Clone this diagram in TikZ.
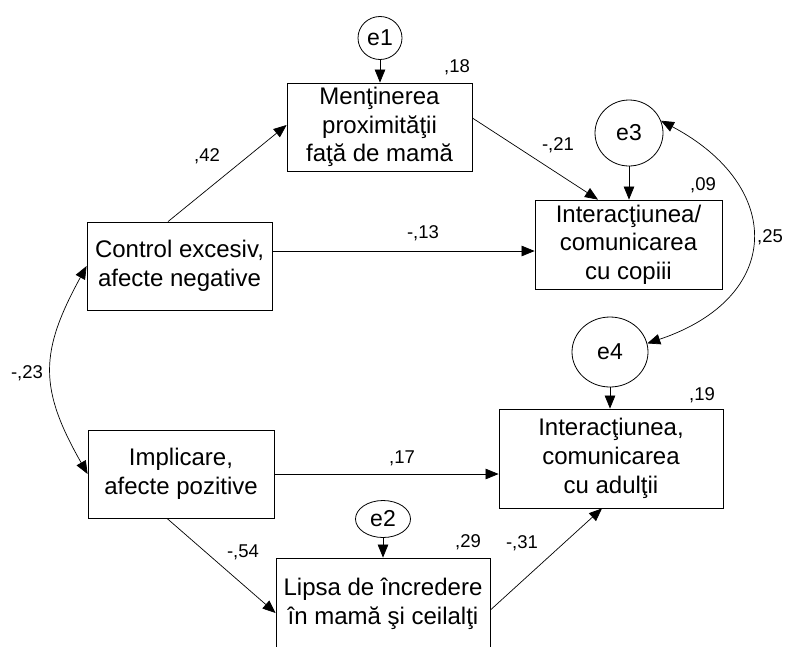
\documentclass[tikz,border=0pt]{standalone}
\usepackage{fontspec}
\setmainfont{Liberation Sans}
\usetikzlibrary{arrows.meta,shapes.geometric,calc}
\begin{document}
\begin{tikzpicture}[x=1pt,y=-1pt,
  box/.style={draw, line width=0.8pt, align=center, inner sep=0pt,
    font=\fontsize{24}{28.7}\selectfont},
  err/.style={draw, ellipse, line width=0.8pt, inner sep=0pt,
    font=\fontsize{23}{27}\selectfont},
  arr/.style={-{Triangle[length=13pt,width=10.5pt]}, line width=0.7pt},
  darr/.style={{Triangle[length=13pt,width=10.5pt]}-{Triangle[length=13pt,width=10.5pt]}, line width=0.7pt},
  lab/.style={font=\fontsize{18.5}{21}\selectfont, inner sep=0pt}]
\useasboundingbox (0,0) rectangle (789,646);
\clip (0,0) rectangle (789,646);

% boxes
\node[box, minimum width=185pt, minimum height=88pt] (box1) at (379.5,127)
  {Menţinerea\\proximităţii\\faţă de mamă};
\node[box, minimum width=187pt, minimum height=89pt] (box3) at (628.5,244.5)
  {Interacţiunea/\\comunicarea\\cu copiii};
\node[box, minimum width=185pt, minimum height=88pt] (ctrl) at (179.5,266)
  {Control excesiv,\\afecte negative};
\node[box, minimum width=186pt, minimum height=88pt] (impl) at (181,474)
  {Implicare,\\afecte pozitive};
\node[box, minimum width=224pt, minimum height=99pt] (box4) at (611,458.5)
  {Interacţiunea,\\comunicarea\\cu adulţii};
\node[box, minimum width=214pt, minimum height=92pt] (lipsa) at (383,604)
  {Lipsa de încredere\\în mamă şi ceilalţi};

% error terms
\node[err, minimum width=44pt, minimum height=43pt] (e1) at (380,38) {e1};
\node[err, minimum width=68pt, minimum height=66pt] (e3) at (629,133) {e3};
\node[err, minimum width=76pt, minimum height=70pt] (e4) at (610,352) {e4};
\node[err, minimum width=55pt, minimum height=37pt] (e2) at (383,519) {e2};

% error arrows
\draw[arr] (e1.south) -- (e1.south |- box1.north);
\draw[arr] (e3.south) -- (e3.south |- box3.north);
\draw[arr] (e4.south) -- (e4.south |- box4.north);
\draw[arr] (e2.south) -- (e2.south |- lipsa.north);

% paths
\draw[arr] ([xshift=-11.5pt]ctrl.north) -- ([yshift=2pt]box1.west);
\draw[arr] ([yshift=15pt]ctrl.east) -- ([yshift=15pt]ctrl.east -| box3.west);
\draw[arr] ([yshift=9pt]box1.east) -- ([xshift=-30.5pt]box3.north);
\draw[arr] (impl.east) -- (impl.east -| box4.west);
\draw[arr] ([xshift=-14pt]impl.south) -- ([yshift=-9pt]lipsa.west);
\draw[arr] ([yshift=-6pt]lipsa.east) -- ([xshift=-9pt]box4.south);

% covariances
\draw[darr] (ctrl.west) .. controls +(-47,86) and +(-49,-86) .. (impl.west);
\draw[darr] (e3.21) .. controls +(123,65) and +(137,-46) .. (e4.13);

% coefficients
\node[lab] (l42) at (207,156) {,42};
\node[lab] (l13) at (423,233) {-,13};
\node[lab] (l21) at (558,145) {-,21};
\node[lab] (l17) at (402,458) {,17};
\node[lab] (l54) at (243,552) {-,54};
\node[lab] (l31) at (522,543) {-,31};
\node[lab] (l23) at (27,373) {-,23};
\node[lab] (l25) at (770,237) {,25};
% squared multiple correlations
\node[lab] (r18) at (457,67) {,18};
\node[lab] (r09) at (703,185) {,09};
\node[lab] (r19) at (702,395) {,19};
\node[lab] (r29) at (468,542) {,29};
\end{tikzpicture}
\end{document}
